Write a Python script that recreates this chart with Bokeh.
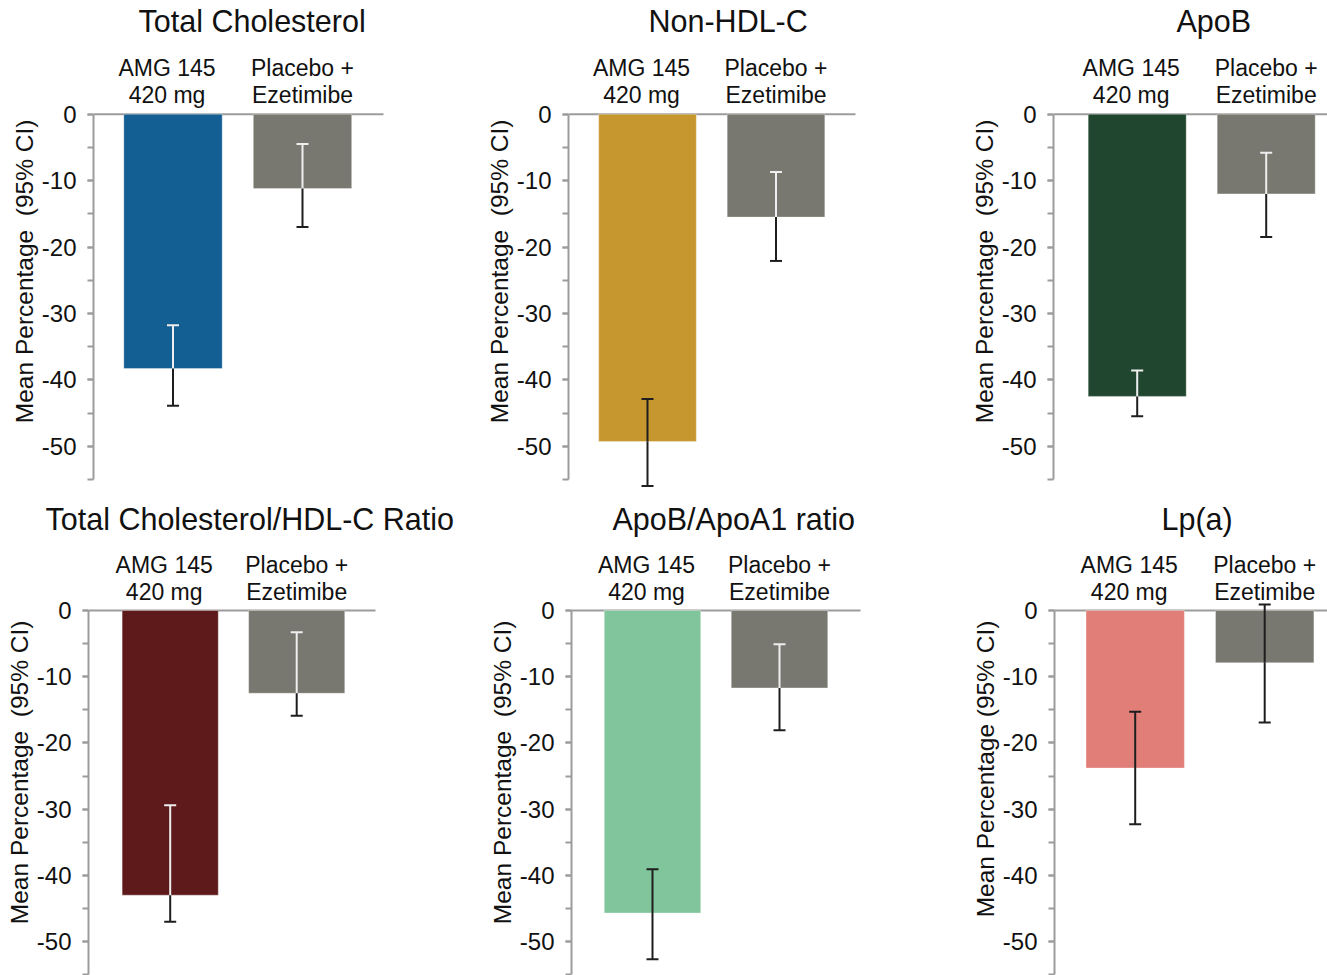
from bokeh.plotting import figure
from bokeh.models import Range1d, SingleIntervalTicker, ColumnDataSource, Whisker, TeeHead, Title
from bokeh.layouts import row, column
from bokeh.embed import file_html
from bokeh.resources import INLINE
from bokeh.core.properties import value

# ---------------- data ----------------
titles = ["Total Cholesterol", "Non-HDL-C", "ApoB",
          "Total Cholesterol/HDL-C Ratio", "ApoB/ApoA1 ratio", "Lp(a)"]
group_line1 = ["AMG 145", "Placebo +"]
group_line2 = ["420 mg", "Ezetimibe"]
ylabels = ["Mean Percentage\u00a0 (95% CI)"] * 5 + ["Mean Percentage (95% CI)"]
y_tick_values = [0, -10, -20, -30, -40, -50]

amg_mean = [-38.3, -49.3, -42.5, -43.0, -45.7, -23.8]
amg_upper = [-31.8, -42.9, -38.6, -29.4, -39.1, -15.3]
amg_lower = [-43.9, -56.0, -45.5, -47.0, -52.7, -32.3]
pbo_mean = [-11.2, -15.5, -12.0, -12.5, -11.7, -7.9]
pbo_upper = [-4.5, -8.7, -5.8, -3.3, -5.1, 0.9]
pbo_lower = [-17.0, -22.1, -18.5, -15.9, -18.1, -16.9]

# ---------------- styles ----------------
amg_colors = ["#135E92", "#C6972E", "#21462F", "#5E1A1A", "#80C59B", "#E27E78"]
placebo_color = "#787870"
DARK = "#1e1e1e"
LIGHT = "#eeeeee"
amg_inner = [LIGHT, DARK, LIGHT, LIGHT, DARK, DARK]
pbo_inner = [LIGHT, LIGHT, LIGHT, LIGHT, LIGHT, DARK]

FONT = "Liberation Sans"
AXIS_GRAY = "#9c9c9c"
TEXT = "#111111"

TOP = 37  # frame top (px) below the panel titles
rows_geo = [
    dict(height=498, left=93, zero=113.7, scale=6.64, lab_off=82),
    dict(height=477, left=88, zero=112.0, scale=6.62, lab_off=85),
]
# width, bar0 offset from axis (px), bar spacing (px), zero-line length (px), title left (px from axis)
panel_geo = [
    (475, 79.5, 129.5, 290, 45),
    (485, 79.0, 128.5, 287, 80),
    (367, 83.7, 129.0, None, 123),
    (483, 81.7, 126.5, 287, -43),
    (483, 81.0, 127.0, 289, 41),
    (361, 80.7, 129.5, None, 107),
]


def make_panel(i):
    rg = rows_geo[i // 3]
    W, b0, sp, zl, tdx = panel_geo[i]
    fw = W - rg["left"]
    xs = -b0 / sp
    xe = xs + fw / sp
    yhi = (rg["zero"] - TOP) / rg["scale"]
    ylo = -(rg["height"] - rg["zero"]) / rg["scale"]

    p = figure(width=W, height=rg["height"],
               x_range=Range1d(xs, xe), y_range=Range1d(ylo, yhi),
               output_backend="svg", toolbar_location=None,
               x_axis_location=None,
               min_border_left=rg["left"], min_border_right=0,
               min_border_top=TOP, min_border_bottom=0)
    p.outline_line_color = None
    p.xgrid.visible = False
    p.ygrid.visible = False

    ax = p.yaxis[0]
    ax.bounds = (-55, 0)
    ax.ticker = SingleIntervalTicker(interval=10, num_minor_ticks=2)
    ax.major_label_overrides = {v: str(v) for v in y_tick_values}
    ax.axis_line_color = AXIS_GRAY
    ax.axis_line_width = 2
    ax.major_tick_line_color = AXIS_GRAY
    ax.minor_tick_line_color = AXIS_GRAY
    ax.major_tick_line_width = 2
    ax.minor_tick_line_width = 2
    ax.major_tick_out = 6
    ax.major_tick_in = 0
    ax.minor_tick_out = 6
    ax.minor_tick_in = 0
    ax.major_label_text_font = FONT
    ax.major_label_text_font_size = "24px"
    ax.major_label_text_color = TEXT
    ax.major_label_standoff = 11

    # zero baseline
    end = xs + zl / sp if zl is not None else xe
    p.segment(x0=[xs], y0=[0], x1=[end], y1=[0], line_color=AXIS_GRAY, line_width=2)

    # bars
    src = ColumnDataSource(dict(x=[0, 1], top=[0, 0],
                                bottom=[amg_mean[i], pbo_mean[i]],
                                color=[amg_colors[i], placebo_color]))
    p.vbar(x="x", top="top", bottom="bottom", width=0.76, fill_color="color",
           line_color="white", line_alpha=0.35, line_width=1, source=src)

    # error bars
    bars = [(amg_mean[i], amg_upper[i], amg_lower[i], amg_inner[i]),
            (pbo_mean[i], pbo_upper[i], pbo_lower[i], pbo_inner[i])]
    for j, (m, up, lo, inner) in enumerate(bars):
        s_in = ColumnDataSource(dict(b=[j], u=[up], l=[m]))
        w_in = Whisker(source=s_in, base="b", upper="u", lower="l",
                       line_color=inner, line_width=2, level="overlay",
                       upper_head=TeeHead(size=12, line_color=inner, line_width=2),
                       lower_head=None)
        s_out = ColumnDataSource(dict(b=[j], u=[m], l=[lo]))
        w_out = Whisker(source=s_out, base="b", upper="u", lower="l",
                        line_color=DARK, line_width=2, level="overlay",
                        upper_head=None,
                        lower_head=TeeHead(size=12, line_color=DARK, line_width=2))
        p.add_layout(w_in)
        p.add_layout(w_out)

    # category labels
    for j, dx in enumerate([-6, 0]):
        p.text(x=[j], y=[0], text=[group_line1[j]], x_offset=dx, y_offset=-46,
               text_font=value(FONT), text_font_size="23px", text_color=TEXT,
               text_align="center", text_baseline="alphabetic")
        p.text(x=[j], y=[0], text=[group_line2[j]], x_offset=dx, y_offset=-19,
               text_font=value(FONT), text_font_size="23px", text_color=TEXT,
               text_align="center", text_baseline="alphabetic")

    # panel title
    tt = Title(text=titles[i], align="left", offset=tdx, vertical_align="bottom",
               text_font=FONT, text_font_size="30.5px", text_font_style="normal",
               text_color=TEXT, standoff=0)
    p.add_layout(tt, "above")

    # y label
    t = Title(text=ylabels[i], align="right", offset=rg["lab_off"],
              text_font=FONT, text_font_size="24.5px", text_font_style="normal",
              text_color=TEXT, standoff=0, vertical_align="middle")
    p.add_layout(t, "left")
    return p


panels = [make_panel(i) for i in range(6)]
layout = column(row(*panels[:3]), row(*panels[3:]))

with open("out.html", "w") as f:
    f.write(file_html(layout, INLINE))
